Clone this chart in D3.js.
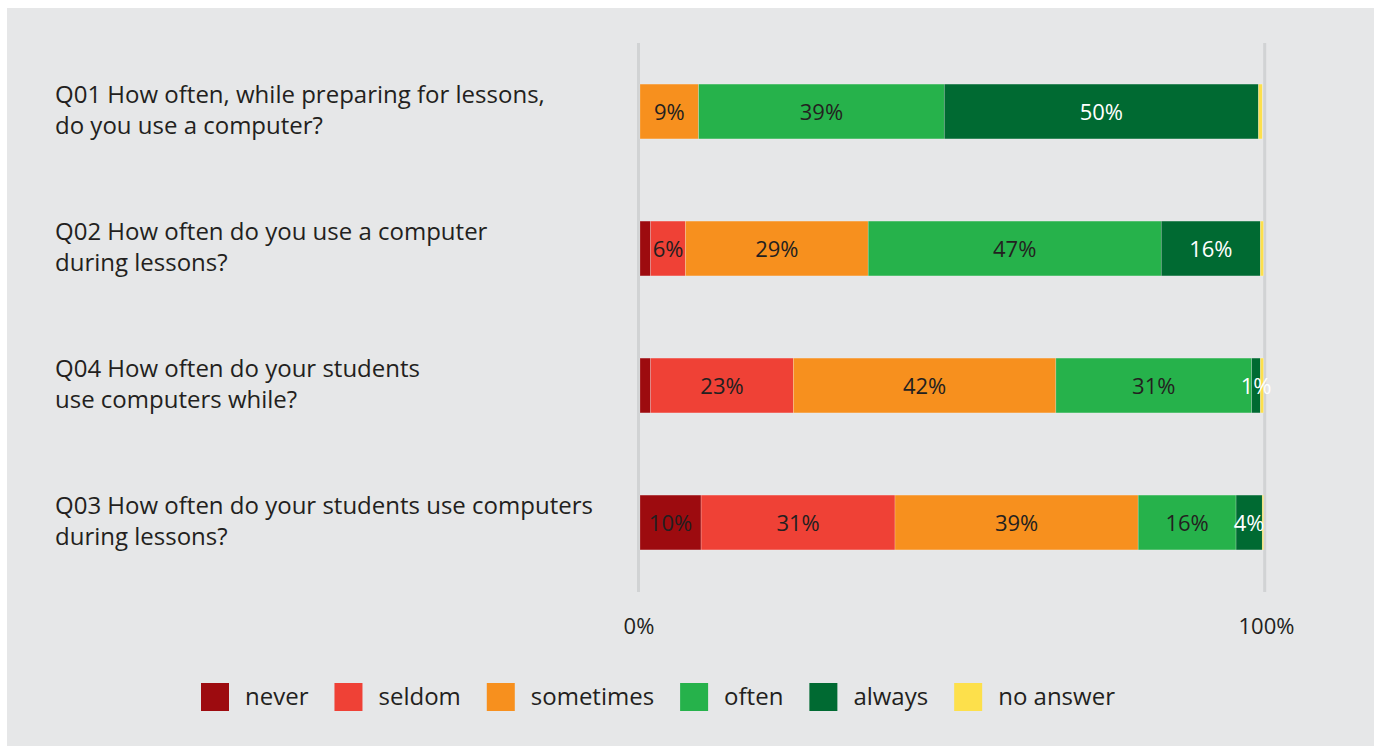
<!DOCTYPE html>
<html>
<head>
<meta charset="utf-8">
<script src="https://cdn.jsdelivr.net/npm/d3@7"></script>
<style>
  html, body { margin: 0; padding: 0; background: #ffffff; }
  svg { display: block; }
  text { font-family: "Open Sans", "Noto Sans", sans-serif; fill: #231f20; }
</style>
</head>
<body>
<svg id="chart" width="1374" height="746"></svg>
<script>
// Survey questions, two lines each, top to bottom
const questions = [
  ["Q01 How often, while preparing for lessons,", "do you use a computer?"],
  ["Q02 How often do you use a computer", "during lessons?"],
  ["Q04 How often do your students", "use computers while?"],
  ["Q03 How often do your students use computers", "during lessons?"]
];
const questionIds = ["Q01", "Q02", "Q04", "Q03"];

// Answer categories in stacking order
const answers = ["never", "seldom", "sometimes", "often", "always", "no answer"];
const answerColors = ["#9d0b0f", "#ef4136", "#f7901e", "#26b24b", "#006a32", "#fde04b"];
const labelColors = ["#231f20", "#231f20", "#231f20", "#231f20", "#ffffff", "#231f20"];

// Share of respondents (%) per answer, one array per answer category
const never    = [0,    1.7,  1.7,  9.8];
const seldom   = [0,    5.6,  22.9, 31.1];
const sometimes= [9.4,  29.3, 42.1, 39.0];
const often    = [39.4, 47.0, 31.4, 15.7];
const always   = [50.4, 15.9, 1.4,  4.2];
const noAnswer = [0.6,  0.5,  0.5,  0.2];

const axisTicks = [0, 100];
const axisTickLabels = ["0%", "100%"];

const seriesValues = [never, seldom, sometimes, often, always, noAnswer];

const rows = questionIds.map((id, i) => {
  const r = { id };
  answers.forEach((a, j) => { r[a] = seriesValues[j][i]; });
  return r;
});

const svg = d3.select("#chart");

// panel background
svg.append("rect")
  .attr("x", 7).attr("y", 8)
  .attr("width", 1374 - 7).attr("height", 746 - 8)
  .attr("fill", "#e6e7e8");

const x = d3.scaleLinear().domain([0, 100]).range([640, 1263.5]);
const y = d3.scaleBand().domain(questionIds).range([43, 591])
  .paddingInner(0.6).paddingOuter(0.3);

// vertical grid lines at 0% and 100%
svg.append("g").selectAll("line")
  .data(axisTicks)
  .join("line")
  .attr("x1", d => x(d) + (d === 0 ? -1.5 : 1.2))
  .attr("x2", d => x(d) + (d === 0 ? -1.5 : 1.2))
  .attr("y1", 43).attr("y2", 592)
  .attr("stroke", "#d1d3d4")
  .attr("stroke-width", 3);

// axis labels
svg.append("g").selectAll("text")
  .data(axisTicks)
  .join("text")
  .attr("x", d => x(d) + (d === 0 ? -1 : 3))
  .attr("y", 634)
  .attr("text-anchor", "middle")
  .attr("font-size", 22)
  .text((d, i) => axisTickLabels[i]);

// stacked bars
const stack = d3.stack().keys(answers);
const layers = stack(rows);

const layerG = svg.append("g").selectAll("g")
  .data(layers)
  .join("g")
  .attr("fill", (d, i) => answerColors[i]);

layerG.selectAll("rect")
  .data(d => d.filter(p => p[1] - p[0] > 0))
  .join("rect")
  .attr("x", p => x(p[0]))
  .attr("width", p => x(p[1]) - x(p[0]))
  .attr("y", p => y(p.data.id))
  .attr("height", y.bandwidth())
  .attr("stroke", "rgba(255,255,255,0.35)")
  .attr("stroke-width", 0.6);

// value labels: small "never" and "no answer" slices stay unlabeled
const fmt = v => d3.format(".0f")(v) + "%";
const minLabel = { "never": 5, "no answer": 100 };
svg.append("g").selectAll("g")
  .data(layers)
  .join("g")
  .each(function (layer, li) {
    const key = layer.key;
    const min = minLabel[key] !== undefined ? minLabel[key] : 1;
    d3.select(this).selectAll("text")
      .data(layer.filter(p => p[1] - p[0] >= min))
      .join("text")
      .attr("x", p => (x(p[0]) + x(p[1])) / 2)
      .attr("y", p => y(p.data.id) + y.bandwidth() / 2 + 8)
      .attr("text-anchor", "middle")
      .attr("font-size", 22)
      .style("fill", labelColors[li])
      .text(p => fmt(p[1] - p[0]));
  });

// question labels
const qG = svg.append("g");
questions.forEach((lines, i) => {
  const cy = y(questionIds[i]) + y.bandwidth() / 2;
  const t = qG.append("text")
    .attr("x", 55)
    .attr("font-size", 24);
  lines.forEach((ln, k) => {
    t.append("tspan")
      .attr("x", 55)
      .attr("y", cy - 8.5 + k * 31)
      .text(ln);
  });
});

// legend
const legend = svg.append("g");
let lx = 201;
answers.forEach((a, i) => {
  const item = legend.append("g");
  item.append("rect")
    .attr("x", lx).attr("y", 683)
    .attr("width", 28).attr("height", 28)
    .attr("fill", answerColors[i]);
  const t = item.append("text")
    .attr("x", lx + 44)
    .attr("y", 705)
    .attr("font-size", 24)
    .text(a);
  lx += 44 + t.node().getComputedTextLength() + 26;
});
</script>
</body>
</html>
